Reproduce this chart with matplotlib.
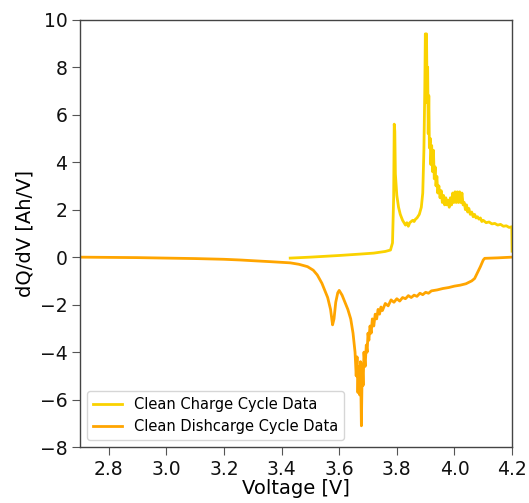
import matplotlib
matplotlib.use("Agg")
import matplotlib.pyplot as plt

# Charge cycle: voltage [V] and incremental capacity dQ/dV [Ah/V]
charge_v = [3.430, 3.500, 3.600, 3.674, 3.720, 3.760, 3.778, 3.785, 3.789, 3.791,
            3.793, 3.795, 3.800, 3.806, 3.812, 3.820, 3.825, 3.830, 3.835, 3.840,
            3.845, 3.850, 3.855, 3.860, 3.865, 3.870, 3.878, 3.885, 3.890, 3.894,
            3.897, 3.899, 3.901, 3.903, 3.905, 3.907, 3.909, 3.911, 3.913, 3.916,
            3.918, 3.921, 3.924, 3.927, 3.930, 3.933, 3.936, 3.939, 3.942, 3.946,
            3.950, 3.954, 3.958, 3.962, 3.966, 3.970, 3.974, 3.978, 3.982, 3.986,
            3.990, 3.994, 3.998, 4.002, 4.006, 4.010, 4.014, 4.018, 4.022, 4.026,
            4.030, 4.034, 4.038, 4.042, 4.046, 4.050, 4.055, 4.060, 4.065, 4.070,
            4.075, 4.080, 4.085, 4.090, 4.095, 4.100, 4.110, 4.120, 4.130, 4.140,
            4.150, 4.160, 4.170, 4.180, 4.190, 4.199, 4.200]
charge_dqdv = [-0.04, 0.00, 0.07, 0.13, 0.17, 0.24, 0.30, 0.60, 2.50, 5.60,
               5.30, 3.50, 2.60, 2.10, 1.80, 1.55, 1.45, 1.35, 1.45, 1.30,
               1.45, 1.50, 1.55, 1.50, 1.60, 1.65, 1.80, 2.10, 2.70, 4.50,
               7.00, 9.40, 6.50, 9.40, 7.00, 8.00, 5.20, 6.80, 4.60, 5.00,
               3.90, 4.70, 3.60, 4.50, 3.30, 3.80, 3.00, 3.40, 2.70, 3.00,
               2.50, 2.80, 2.30, 2.60, 2.20, 2.50, 2.20, 2.40, 2.10, 2.50,
               2.20, 2.70, 2.30, 2.75, 2.30, 2.75, 2.30, 2.75, 2.30, 2.70,
               2.20, 2.30, 2.00, 2.20, 1.90, 2.05, 1.80, 1.90, 1.70, 1.80,
               1.65, 1.70, 1.60, 1.65, 1.50, 1.55, 1.45, 1.48, 1.40, 1.42,
               1.35, 1.38, 1.30, 1.32, 1.25, 1.28, 0.25]

# Discharge cycle
discharge_v = [2.700, 2.900, 3.000, 3.100, 3.200, 3.257, 3.300, 3.360, 3.430, 3.460,
               3.490, 3.510, 3.524, 3.540, 3.560, 3.570, 3.577, 3.582, 3.588, 3.595,
               3.600, 3.610, 3.620, 3.630, 3.640, 3.648, 3.655, 3.659, 3.662, 3.665,
               3.668, 3.671, 3.674, 3.677, 3.680, 3.683, 3.686, 3.690, 3.694, 3.697,
               3.700, 3.703, 3.707, 3.711, 3.715, 3.720, 3.725, 3.730, 3.735, 3.740,
               3.745, 3.750, 3.760, 3.770, 3.780, 3.790, 3.800, 3.810, 3.820, 3.830,
               3.840, 3.850, 3.860, 3.870, 3.880, 3.890, 3.900, 3.910, 3.920, 3.940,
               3.960, 3.980, 4.000, 4.020, 4.040, 4.060, 4.070, 4.080, 4.090, 4.100,
               4.105, 4.150, 4.200]
discharge_dqdv = [0.00, -0.02, -0.04, -0.06, -0.09, -0.12, -0.15, -0.19, -0.24, -0.30,
                  -0.40, -0.55, -0.75, -1.10, -1.70, -2.20, -2.85, -2.60, -1.90, -1.50,
                  -1.40, -1.60, -1.90, -2.20, -2.60, -3.20, -4.00, -5.00, -4.20, -5.70,
                  -4.60, -5.80, -4.40, -7.10, -4.50, -5.40, -4.00, -4.60, -3.70, -4.00,
                  -3.20, -3.50, -2.90, -3.20, -2.60, -2.90, -2.40, -2.60, -2.20, -2.40,
                  -2.10, -2.25, -1.95, -2.05, -1.80, -1.90, -1.75, -1.85, -1.70, -1.75,
                  -1.62, -1.70, -1.60, -1.65, -1.52, -1.58, -1.48, -1.52, -1.42, -1.38,
                  -1.32, -1.28, -1.22, -1.18, -1.12, -1.00, -0.90, -0.65, -0.40, -0.12,
                  -0.05, -0.03, 0.00]

fig = plt.figure(figsize=(5.29, 5.03), dpi=100)
ax = fig.add_axes([0.151, 0.111, 0.817, 0.850])

ax.plot(charge_v, charge_dqdv, color="#FAD200", lw=2.0, label="Clean Charge Cycle Data")
ax.plot(discharge_v, discharge_dqdv, color="#FFA500", lw=2.0, label="Clean Dishcarge Cycle Data")

ax.set_xlim(2.7, 4.2)
ax.set_ylim(-8, 10)
ax.set_xticks([2.8, 3.0, 3.2, 3.4, 3.6, 3.8, 4.0, 4.2])
ax.set_yticks(range(-8, 11, 2))
ax.tick_params(labelsize=13.5, length=6, pad=3, color="#555555", labelcolor="#111111")
for s in ax.spines.values():
    s.set_color("#444444")
    s.set_linewidth(1.0)

ax.set_xlabel("Voltage [V]", fontsize=14, labelpad=0)
ax.set_ylabel("dQ/dV [Ah/V]", fontsize=14, labelpad=4)
ax.legend(loc="lower left", fontsize=10.5, frameon=True)

fig.savefig("out.png", dpi=100)
